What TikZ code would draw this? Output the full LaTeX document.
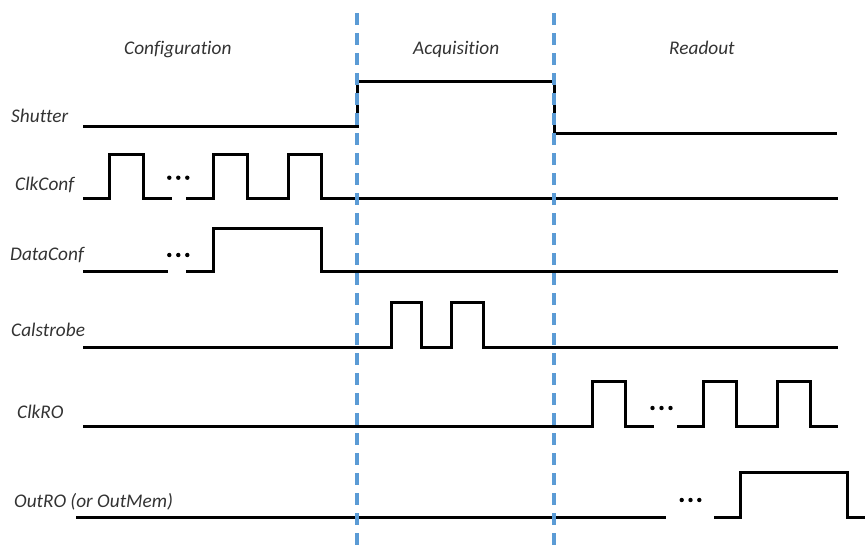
\documentclass[tikz,border=0pt]{standalone}
\usepackage{fontspec}
\setmainfont{Carlito}[Ligatures=NoCommon]
\definecolor{phaseblue}{HTML}{5B9BD5}
\begin{document}
\begin{tikzpicture}[x=1pt,y=-1pt,
  sig/.style={line width=3pt,line join=miter,line cap=butt,black},
  phase/.style={line width=3.4pt,phaseblue,dash pattern=on 12pt off 8pt},
  lbl/.style={inner sep=0pt,anchor=base west,font=\fontsize{19.3}{23}\selectfont\itshape,text=black!80},
  dot/.style={fill=black,circle,inner sep=0pt,minimum size=4.4pt}]
\useasboundingbox (0,0) rectangle (865,547);

% phase titles
\node[lbl] (tconf) at (124,54.5) {Configuration};
\node[lbl] (tacq)  at (413,54.5) {Acquisition};
\node[lbl] (tro)   at (669,54.5) {Readout};

% signal names
\node[lbl] (lshut) at (11,122)  {Shutter};
\node[lbl] (lclkc) at (15,190.5) {ClkConf};
\node[lbl] (ldata) at (10,260.5) {DataConf};
\node[lbl] (lcal)  at (11,336.7) {Calstrobe};
\node[lbl] (lclkr) at (17,418.5) {ClkRO};
\node[lbl] (lout)  at (14,507.3) {OutRO (or OutMem)};

% Shutter
\draw[sig] (83,126) -- (357,126) -- (357,81) -- (554,81) -- (554,133) -- (837,133);

% ClkConf
\draw[sig] (83,198) -- (109,198) -- (109,154) -- (143,154) -- (143,198) -- (172,198);
\draw[sig] (186,198) -- (213,198) -- (213,154) -- (247,154) -- (247,198)
  -- (288,198) -- (288,154) -- (321,154) -- (321,198) -- (838,198);
\node[dot] (d1a) at (169.3,177.7) {};
\node[dot] (d1b) at (178.3,177.7) {};
\node[dot] (d1c) at (187.3,177.7) {};

% DataConf
\draw[sig] (83,271) -- (168,271);
\draw[sig] (186,271) -- (213,271) -- (213,228) -- (321,228) -- (321,271) -- (838,271);
\node[dot] (d2a) at (169.3,255) {};
\node[dot] (d2b) at (178.3,255) {};
\node[dot] (d2c) at (187.3,255) {};

% Calstrobe
\draw[sig] (83,347) -- (391,347) -- (391,302) -- (421,302) -- (421,347)
  -- (451,347) -- (451,302) -- (483,302) -- (483,347) -- (838,347);

% ClkRO
\draw[sig] (83,426) -- (592,426) -- (592,381) -- (625,381) -- (625,426) -- (654,426);
\draw[sig] (677,426) -- (703,426) -- (703,381) -- (736,381) -- (736,426)
  -- (777,426) -- (777,381) -- (810,381) -- (810,426) -- (838,426);
\node[dot] (d3a) at (652.5,408) {};
\node[dot] (d3b) at (661.5,408) {};
\node[dot] (d3c) at (670.5,408) {};

% OutRO
\draw[sig] (76,517) -- (666,517);
\draw[sig] (714,517) -- (740,517) -- (740,472) -- (847,472) -- (847,517) -- (865,517);
\node[dot] (d4a) at (681.7,500) {};
\node[dot] (d4b) at (690.5,500) {};
\node[dot] (d4c) at (699.3,500) {};

% phase boundaries
\draw[phase] (357,13) -- (357,547);
\draw[phase] (554,13) -- (554,547);
\end{tikzpicture}
\end{document}
